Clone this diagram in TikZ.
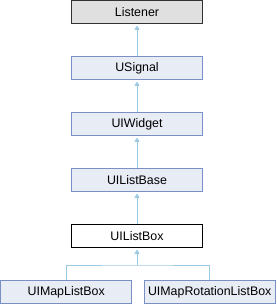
\documentclass[tikz,border=0pt]{standalone}
\usepackage{fontspec}
\setmainfont{Liberation Sans}
\usetikzlibrary{arrows.meta}
\definecolor{boxfill}{HTML}{E8ECF5}
\definecolor{boxdraw}{HTML}{7A90C4}
\definecolor{edgecol}{HTML}{9CCAE2}
\definecolor{grayfill}{HTML}{E0E0E0}
\tikzset{
  cls/.style={draw=boxdraw, fill=boxfill, line width=1pt, minimum width=131pt, minimum height=23pt, inner sep=0pt, font=\fontsize{12.4pt}{15pt}\selectfont},
  extcls/.style={cls, draw=black!80, fill=grayfill},
  curcls/.style={cls, draw=black, fill=white},
  inh/.style={draw=edgecol, line width=1pt, {Triangle[width=5pt,length=4.5pt]}-, shorten <=1.5pt},
}
\begin{document}
\begin{tikzpicture}[x=1pt,y=-1pt]
\useasboundingbox (0,0) rectangle (276,304);
\node[extcls] (listener) at (137,12) {Listener};
\node[cls] (usignal) at (137,68) {USignal};
\node[cls] (uiwidget) at (137,124) {UIWidget};
\node[cls] (uilistbase) at (137,180) {UIListBase};
\node[curcls] (uilistbox) at (137,236) {UIListBox};
\node[cls] (uimap) at (66.2,292) {UIMapListBox};
\node[cls] (uirot) at (209.7,292) {UIMapRotationListBox};
\draw[inh] (listener.south) -- (usignal.north);
\draw[inh] (usignal.south) -- (uiwidget.north);
\draw[inh] (uiwidget.south) -- (uilistbase.north);
\draw[inh] (uilistbase.south) -- (uilistbox.north);
\coordinate (junc) at (137,265);
\draw[inh] (uilistbox.south) -- (junc);
\draw[draw=edgecol, line width=1pt] (uimap.north) |- (junc) -| (uirot.north);
\end{tikzpicture}
\end{document}
